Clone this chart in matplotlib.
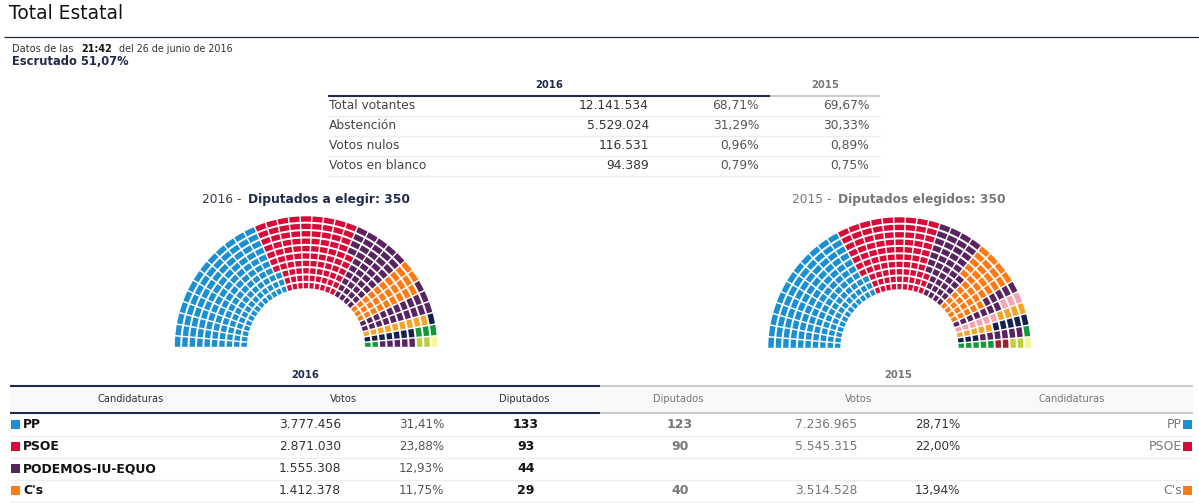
import matplotlib
matplotlib.use('Agg')
import matplotlib.pyplot as plt
from matplotlib.patches import Wedge, Rectangle

plt.rcParams['font.family'] = ['DejaVu Sans']

BLUE = '#1a8fd1'
RED = '#d80b38'
PURPLE = '#58245f'
ORANGE = '#ff7a12'
AMBER = '#f5a62a'
NAVY = '#14204e'
GREEN = '#0f9a38'
LIME = '#bfce3c'
PALE = '#f6f78e'
PINK = '#f4a3b0'
DARKRED = '#a31f2b'

INK = '#1f2a4d'
TEXT = '#333333'
GREY = '#777777'

# seats, in the order they fill the hemicycle (left to right)
seats_2016 = [133, 93, 44, 29, 21, 9, 8, 5, 5, 2, 1]
colors_2016 = [BLUE, RED, PURPLE, ORANGE, PURPLE, AMBER, NAVY, GREEN, PURPLE, LIME, PALE]
seats_2015 = [123, 90, 42, 40, 12, 9, 9, 8, 6, 6, 2, 2, 1]
colors_2015 = [BLUE, RED, PURPLE, ORANGE, PURPLE, PINK, AMBER, NAVY, PURPLE, GREEN, DARKRED, LIME, PALE]

summary_labels = ['Total votantes', 'Abstención', 'Votos nulos', 'Votos en blanco']
summary_votes = ['12.141.534', '5.529.024', '116.531', '94.389']
summary_pct_2016 = ['68,71%', '31,29%', '0,96%', '0,79%']
summary_pct_2015 = ['69,67%', '30,33%', '0,89%', '0,75%']

parties = ['PP', 'PSOE', 'PODEMOS-IU-EQUO', "C's"]
party_colors = [BLUE, RED, PURPLE, ORANGE]
votes_2016 = ['3.777.456', '2.871.030', '1.555.308', '1.412.378']
pct_2016 = ['31,41%', '23,88%', '12,93%', '11,75%']
dip_2016 = ['133', '93', '44', '29']
dip_2015 = ['123', '90', '', '40']
votes_2015 = ['7.236.965', '5.545.315', '', '3.514.528']
pct_2015 = ['28,71%', '22,00%', '', '13,94%']

ROWS = 10
COLUMNS = 35


# one hemicycle: seats fill column by column, inner row first
def hemicycle(ax, cx, cy, seats, colors):
    fill = []
    for n, c in zip(seats, colors):
        fill += [c] * n

    for i, c in enumerate(fill):
        col = i // ROWS
        row = i % ROWS
        r_out = 64.6 + row * 7.4
        gap = 1.5 / r_out * 57.3 / 2
        step = 180 / COLUMNS
        ax.add_patch(Wedge((cx, cy), r_out, 180 + col * step + gap, 180 + (col + 1) * step - gap,
                           width=5.4, facecolor=c, edgecolor='none'))


fig = plt.figure(figsize=(11.99, 5.03), dpi=100)
ax = fig.add_axes([0, 0, 1, 1])
ax.set_xlim(0, 1199)
ax.set_ylim(503, 0)
ax.axis('off')


def put(x, y, s, size=8.8, color=TEXT, weight='normal', ha='left'):
    ax.text(x, y, s, fontsize=size, color=color, fontweight=weight, ha=ha, va='center')


def rule(x0, x1, y, color='#eeeeee', lw=1.0):
    ax.plot([x0, x1], [y, y], color=color, lw=lw, solid_capstyle='butt')


# page header
put(9, 13, 'Total Estatal', size=13.4, color='#111111')
rule(4, 1199, 36.5, color='#1c2a3a', lw=0.9)
put(12, 48.5, 'Datos de las', size=7.1)
put(81, 48.5, '21:42', size=6.9, color='#111111', weight='bold')
put(119, 48.5, 'del 26 de junio de 2016', size=6.9)
put(12, 61.5, 'Escrutado 51,07%', size=8.3, color=INK, weight='bold')

# summary table
put(549, 85, '2016', size=7.2, color=INK, weight='bold', ha='center')
put(825, 85, '2015', size=7.2, color=GREY, weight='bold', ha='center')
rule(328, 770, 95.5, color=INK, lw=1.5)
rule(770, 880, 95.5, color='#cccccc', lw=1.5)
for i in range(4):
    y = 105.5 + 20 * i
    put(329, y, summary_labels[i], color='#444444')
    put(649, y, summary_votes[i], ha='right')
    put(759, y, summary_pct_2016[i], color='#555555', ha='right')
    put(869, y, summary_pct_2015[i], color='#555555', ha='right')
    rule(328, 880, y + 10)

# hemicycles
put(202, 199.5, '2016 - ', size=8.8, color='#333a55')
put(248, 199.5, 'Diputados a elegir: 350', size=8.8, color=INK, weight='bold')
put(792, 199.5, '2015 - ', size=8.8, color=GREY)
put(838, 199.5, 'Diputados elegidos: 350', size=8.8, color=GREY, weight='bold')
hemicycle(ax, 306, 347.5, seats_2016, colors_2016)
hemicycle(ax, 899.5, 348.5, seats_2015, colors_2015)

# results table
put(305, 375, '2016', size=7.2, color=INK, weight='bold', ha='center')
put(898, 375, '2015', size=7.2, color=GREY, weight='bold', ha='center')
ax.add_patch(Rectangle((10, 386), 1183, 27, facecolor='#f9f9f9', edgecolor='none'))
rule(10, 600, 386, color=INK, lw=1.5)
rule(600, 1193, 386, color='#cccccc', lw=1.5)
rule(10, 600, 413, color=INK, lw=1.5)
rule(600, 1193, 413, color='#cccccc', lw=1.5)
put(131, 399.5, 'Candidaturas', size=7.1, ha='center')
put(343, 399.5, 'Votos', size=7.1, ha='center')
put(524, 399.5, 'Diputados', size=7.1, ha='center')
put(678, 399.5, 'Diputados', size=7.1, color=GREY, ha='center')
put(858, 399.5, 'Votos', size=7.1, color=GREY, ha='center')
put(1072, 399.5, 'Candidaturas', size=7.1, color=GREY, ha='center')

for i in range(4):
    y = 424.5 + 22 * i
    ax.add_patch(Rectangle((11, y - 4.5), 9, 9, facecolor=party_colors[i], edgecolor='none'))
    put(23, y, parties[i], size=8.9, color='#111111', weight='bold')
    put(341, y, votes_2016[i], ha='right')
    put(444, y, pct_2016[i], size=8.6, color='#555555', ha='right')
    put(526, y, dip_2016[i], size=9, color='#111111', weight='bold', ha='center')
    put(680, y, dip_2015[i], size=9, color=GREY, weight='bold', ha='center')
    put(857, y, votes_2015[i], color=GREY, ha='right')
    put(960, y, pct_2015[i], size=8.6, ha='right')
    if parties[i] != 'PODEMOS-IU-EQUO':
        put(1182, y, parties[i], size=9, color=GREY, ha='right')
        ax.add_patch(Rectangle((1183, y - 4.5), 9, 9, facecolor=party_colors[i], edgecolor='none'))
    rule(10, 1193, y + 11)

fig.savefig('out.png', dpi=100)
